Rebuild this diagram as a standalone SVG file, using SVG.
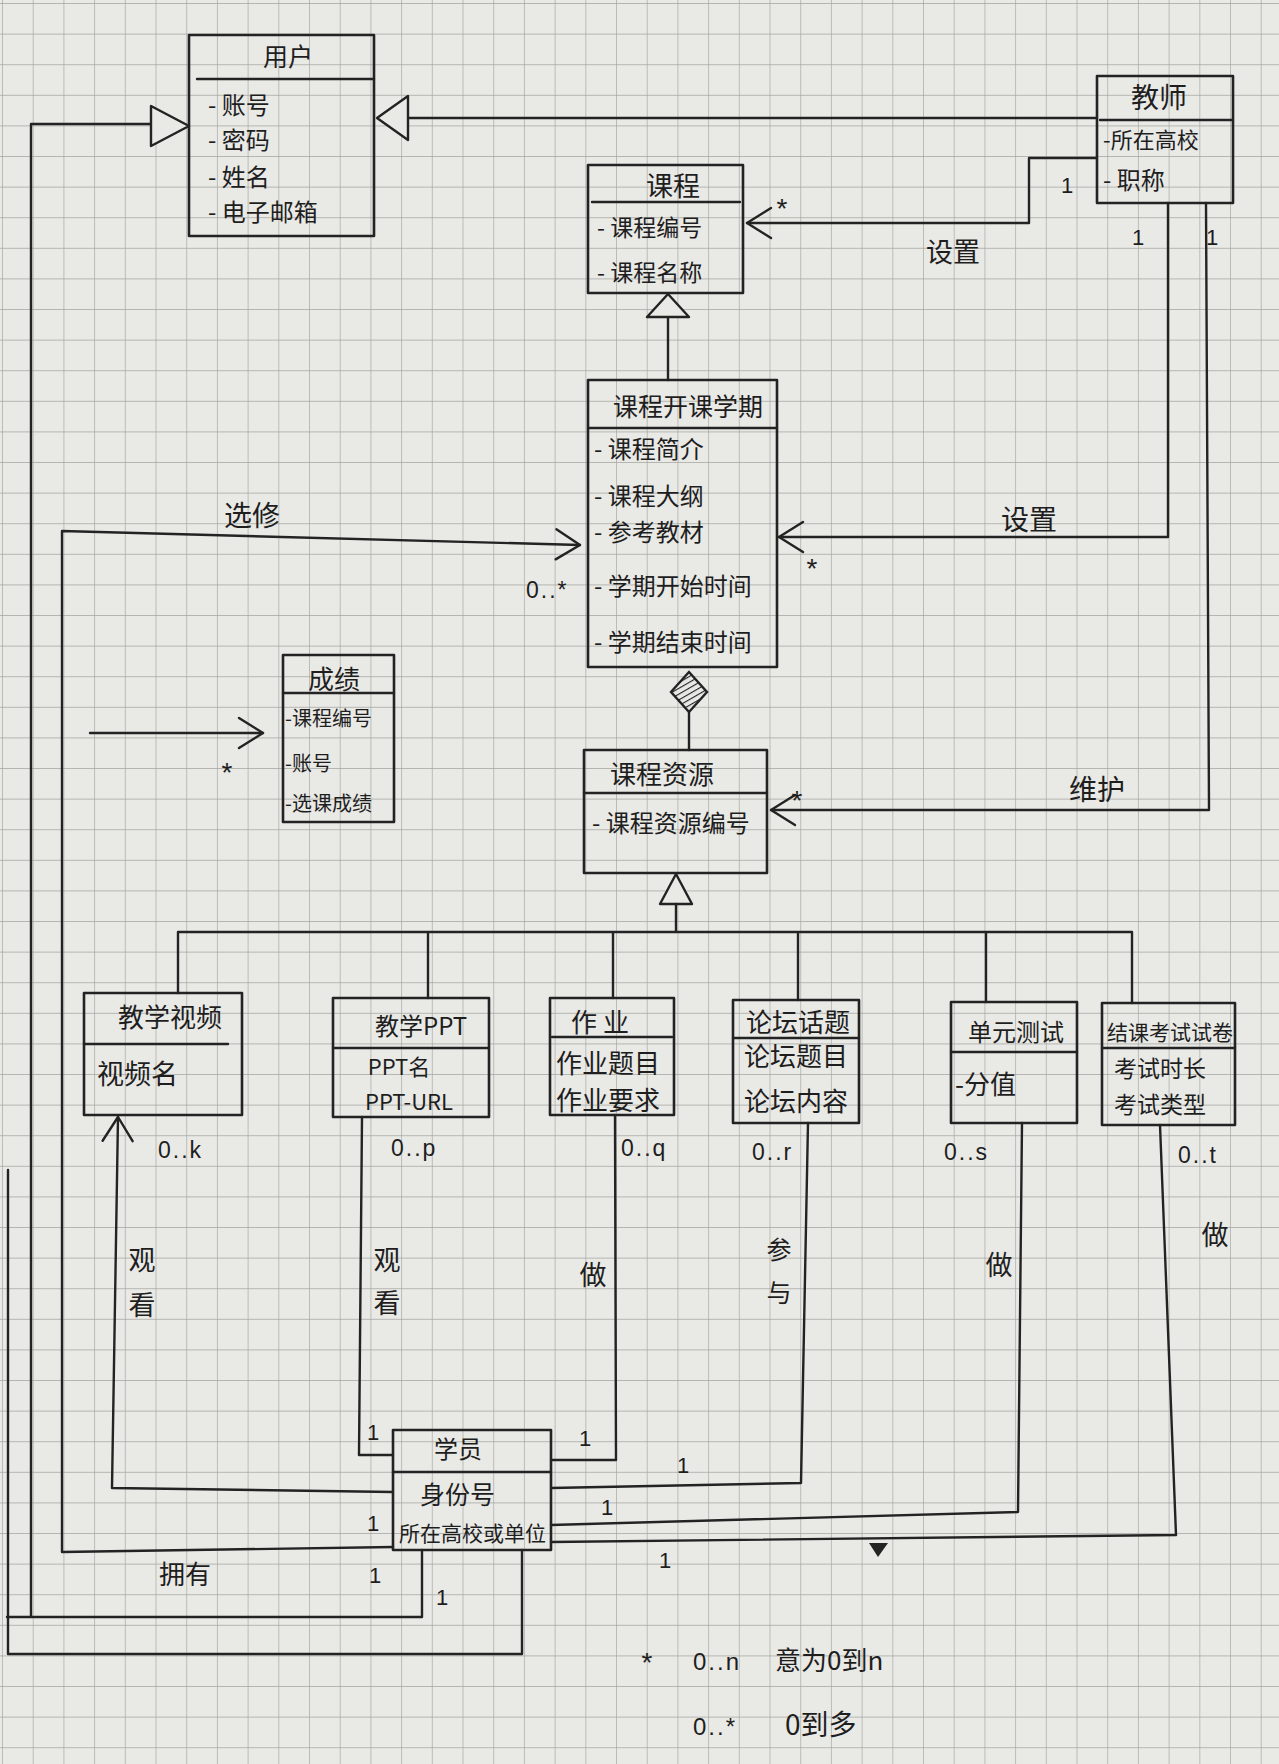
<svg xmlns="http://www.w3.org/2000/svg" width="1279" height="1764" viewBox="0 0 1279 1764">
<defs>
<style>
.bg{fill:#e9e9e6}
.box{fill:none;stroke:#232323;stroke-width:2.6;stroke-linejoin:round}
.ln{fill:none;stroke:#232323;stroke-width:2.4;stroke-linejoin:round;stroke-linecap:round}
.tri{fill:#e9e9e6;stroke:#232323;stroke-width:2.4;stroke-linejoin:round}
.t{font-family:"Noto Sans CJK SC","Noto Sans",sans-serif;fill:#1e1e1e}
.ti{font-size:25px;text-anchor:middle}
.at{font-size:23px}
.lb{font-size:27px;text-anchor:middle}
.m{font-family:"Liberation Sans","Noto Sans",sans-serif;font-size:23px;fill:#1e1e1e;letter-spacing:2px}
.one{font-family:"Liberation Sans",sans-serif;font-size:22px;fill:#1e1e1e;text-anchor:middle}
.st{font-family:"Liberation Sans",sans-serif;font-size:28px;fill:#1e1e1e;text-anchor:middle}
</style>
<pattern id="grid" x="3" y="4" width="30.7" height="30.6" patternUnits="userSpaceOnUse">
<path d="M30.7 0V30.6M0 30.6H30.7" stroke="#a3a3a0" stroke-width="1.3" fill="none"/>
</pattern>
<pattern id="hatch" width="5" height="5" patternUnits="userSpaceOnUse" patternTransform="rotate(60)">
<rect width="5" height="5" fill="#e9e9e6"/>
<path d="M0 0V5" stroke="#232323" stroke-width="2.2"/>
</pattern>
<marker id="open" viewBox="-30 -20 34 40" refX="0" refY="0" markerWidth="34" markerHeight="40" markerUnits="userSpaceOnUse" orient="auto">
<path d="M-24,-15 L0,0 L-24,15" fill="none" stroke="#232323" stroke-width="2.4" stroke-linejoin="round" stroke-linecap="round"/>
</marker>
</defs>
<rect class="bg" x="0" y="0" width="1279" height="1764"/>
<rect fill="url(#grid)" x="0" y="0" width="1279" height="1764"/>

<g id="connectors">
<path class="ln" d="M1097,118 H408"/>
<polygon class="tri" points="377,118 408,96 408,140"/>
<path class="ln" d="M422,1550 V1617 H7 M31,1617 V124 H151"/>
<polygon class="tri" points="189,126 151,106 151,146"/>
<path class="ln" d="M1097,158 H1029 V223 H747" marker-end="url(#open)"/>
<path class="ln" d="M1168,203 V537 H779" marker-end="url(#open)"/>
<path class="ln" d="M1206,203 L1209,810 H771" marker-end="url(#open)"/>
<path class="ln" d="M668,380 V317"/>
<polygon class="tri" points="668,294 647,317 689,317"/>
<path class="ln" d="M689,750 V712"/>
<polygon points="689,672 707,692 689,712 671,692" fill="url(#hatch)" stroke="#232323" stroke-width="2.4"/>
<polygon class="tri" points="676,874 660,904 692,904"/>
<path class="ln" d="M676,904 V932 M178,932 H1132 M178,932 V993 M428,932 V998 M613,932 V998 M798,932 V1000 M986,932 V1002 M1132,932 V1003"/>
<path class="ln" d="M393,1492 L112,1488 L118,1117" marker-end="url(#open)"/>
<path class="ln" d="M393,1455 H359 L362,1117"/>
<path class="ln" d="M551,1460 H616 L615,1115"/>
<path class="ln" d="M551,1488 L801,1483 L808,1123"/>
<path class="ln" d="M551,1525 L1018,1512 L1022,1123"/>
<path class="ln" d="M551,1542 L1176,1535 L1160,1125"/>
<polygon points="869,1543 888,1543 878,1557" fill="#232323"/>
<path class="ln" d="M393,1547 L62,1552 L62,531 L580,545" marker-end="url(#open)"/>
<path class="ln" d="M90,733 H263" marker-end="url(#open)"/>
<path class="ln" d="M522,1550 V1654 H8 V1170"/>
</g>

<g id="labels">
<text class="t lb" x="953" y="262">设置</text>
<text class="t lb" x="1029" y="530" style="font-size:28px">设置</text>
<text class="t lb" x="252" y="526" style="font-size:28px">选修</text>
<text class="t lb" x="1097" y="800" style="font-size:28px">维护</text>
<text class="t lb" x="142" y="1270">观</text>
<text class="t lb" x="142" y="1315">看</text>
<text class="t lb" x="387" y="1270">观</text>
<text class="t lb" x="387" y="1313">看</text>
<text class="t lb" x="593" y="1285">做</text>
<text class="t lb" x="779" y="1259" style="font-size:25px">参</text>
<text class="t lb" x="779" y="1302" style="font-size:25px">与</text>
<text class="t lb" x="999" y="1275">做</text>
<text class="t lb" x="1215" y="1245">做</text>
<text class="t lb" x="185" y="1584" style="font-size:26px">拥有</text>
<text class="m" x="158" y="1158">0..k</text>
<text class="m" x="391" y="1156">0..p</text>
<text class="m" x="621" y="1156">0..q</text>
<text class="m" x="752" y="1160">0..r</text>
<text class="m" x="944" y="1160">0..s</text>
<text class="m" x="1178" y="1163">0..t</text>
<text class="m" x="526" y="598">0..*</text>
<text class="st" x="782" y="218">*</text>
<text class="st" x="812" y="578">*</text>
<text class="st" x="797" y="810">*</text>
<text class="st" x="227" y="782">*</text>
<text class="one" x="1067" y="193">1</text>
<text class="one" x="1138" y="245">1</text>
<text class="one" x="1212" y="245">1</text>
<text class="one" x="373" y="1440">1</text>
<text class="one" x="585" y="1446">1</text>
<text class="one" x="373" y="1531">1</text>
<text class="one" x="375" y="1583">1</text>
<text class="one" x="442" y="1605">1</text>
<text class="one" x="683" y="1473">1</text>
<text class="one" x="607" y="1515">1</text>
<text class="one" x="665" y="1568">1</text>
</g>

<g id="user">
<rect class="box" x="189" y="35" width="185" height="201"/>
<path class="ln" d="M197,79 H374"/>
<text class="t ti" x="288" y="66">用户</text>
<text class="t at" x="208" y="114" style="font-size:24px">- 账号</text>
<text class="t at" x="208" y="149" style="font-size:24px">- 密码</text>
<text class="t at" x="208" y="186" style="font-size:24px">- 姓名</text>
<text class="t at" x="208" y="221" style="font-size:24px">- 电子邮箱</text>
</g>

<g id="teacher">
<rect class="box" x="1097" y="76" width="136" height="127"/>
<path class="ln" d="M1100,120 H1233"/>
<text class="t ti" x="1159" y="108" style="font-size:28px">教师</text>
<text class="t at" x="1103" y="148" style="font-size:22px">-所在高校</text>
<text class="t at" x="1103" y="189" style="font-size:24px">- 职称</text>
</g>

<g id="course">
<rect class="box" x="588" y="165" width="155" height="128"/>
<path class="ln" d="M592,202 H740"/>
<text class="t ti" x="673" y="196" style="font-size:27px">课程</text>
<text class="t at" x="597" y="236">- 课程编号</text>
<text class="t at" x="597" y="281">- 课程名称</text>
</g>

<g id="course-term">
<rect class="box" x="588" y="380" width="189" height="287"/>
<path class="ln" d="M588,428 H777"/>
<text class="t ti" x="688" y="416">课程开课学期</text>
<text class="t at" x="594" y="458" style="font-size:24px">- 课程简介</text>
<text class="t at" x="594" y="505" style="font-size:24px">- 课程大纲</text>
<text class="t at" x="594" y="541" style="font-size:24px">- 参考教材</text>
<text class="t at" x="594" y="595" style="font-size:24px">- 学期开始时间</text>
<text class="t at" x="594" y="651" style="font-size:24px">- 学期结束时间</text>
</g>

<g id="grade">
<rect class="box" x="283" y="655" width="111" height="167"/>
<path class="ln" d="M283,693 H394"/>
<text class="t ti" x="334" y="689" style="font-size:26px">成绩</text>
<text class="t at" x="285" y="726" style="font-size:20px">-课程编号</text>
<text class="t at" x="285" y="771" style="font-size:20px">-账号</text>
<text class="t at" x="285" y="811" style="font-size:20px">-选课成绩</text>
</g>

<g id="resource">
<rect class="box" x="584" y="750" width="183" height="123"/>
<path class="ln" d="M584,793 H767"/>
<text class="t ti" x="662" y="784" style="font-size:26px">课程资源</text>
<text class="t at" x="592" y="832" style="font-size:24px">- 课程资源编号</text>
</g>

<g id="video">
<rect class="box" x="84" y="993" width="158" height="122"/>
<path class="ln" d="M84,1044 H228"/>
<text class="t ti" x="170" y="1027" style="font-size:26px">教学视频</text>
<text class="t at" x="97" y="1084" style="font-size:27px">视频名</text>
</g>

<g id="ppt">
<rect class="box" x="333" y="998" width="156" height="119"/>
<path class="ln" d="M333,1048 H489"/>
<text class="t ti" x="421" y="1035" style="font-size:24px">教学PPT</text>
<text class="t ti" x="399" y="1075" style="font-size:22px">PPT名</text>
<text class="t ti" x="409" y="1110" style="font-size:22px">PPT-URL</text>
</g>

<g id="homework">
<rect class="box" x="550" y="998" width="124" height="117"/>
<path class="ln" d="M552,1037 H672"/>
<text class="t ti" x="603" y="1032" style="font-size:26px;letter-spacing:6px">作业</text>
<text class="t at" x="556" y="1073" style="font-size:26px">作业题目</text>
<text class="t at" x="556" y="1110" style="font-size:26px">作业要求</text>
</g>

<g id="forum">
<rect class="box" x="733" y="1000" width="126" height="123"/>
<path class="ln" d="M733,1038 H859"/>
<text class="t ti" x="798" y="1032" style="font-size:26px">论坛话题</text>
<text class="t at" x="744" y="1066" style="font-size:26px">论坛题目</text>
<text class="t at" x="744" y="1111" style="font-size:26px">论坛内容</text>
</g>

<g id="unit-test">
<rect class="box" x="951" y="1002" width="126" height="121"/>
<path class="ln" d="M951,1052 H1077"/>
<text class="t ti" x="1016" y="1041" style="font-size:24px">单元测试</text>
<text class="t at" x="955" y="1094" style="font-size:26px">-分值</text>
</g>

<g id="final-exam">
<rect class="box" x="1102" y="1003" width="133" height="122"/>
<path class="ln" d="M1102,1048 H1235"/>
<text class="t ti" x="1170" y="1040" style="font-size:21px">结课考试试卷</text>
<text class="t at" x="1114" y="1077" style="font-size:23px">考试时长</text>
<text class="t at" x="1114" y="1113" style="font-size:23px">考试类型</text>
</g>

<g id="student">
<rect class="box" x="393" y="1430" width="158" height="120"/>
<path class="ln" d="M393,1472 H551"/>
<text class="t ti" x="458" y="1458" style="font-size:24px">学员</text>
<text class="t at" x="420" y="1504" style="font-size:25px">身份号</text>
<text class="t at" x="399" y="1541" style="font-size:21px">所在高校或单位</text>
</g>

<g id="legend">
<text class="st" x="647" y="1672">*</text>
<text class="m" x="693" y="1670" style="font-size:24px">0..n</text>
<text class="t at" x="775" y="1670" style="font-size:26px">意为0到n</text>
<text class="m" x="693" y="1735" style="font-size:24px">0..*</text>
<text class="t at" x="785" y="1735" style="font-size:28px">0到多</text>
</g>
</svg>
